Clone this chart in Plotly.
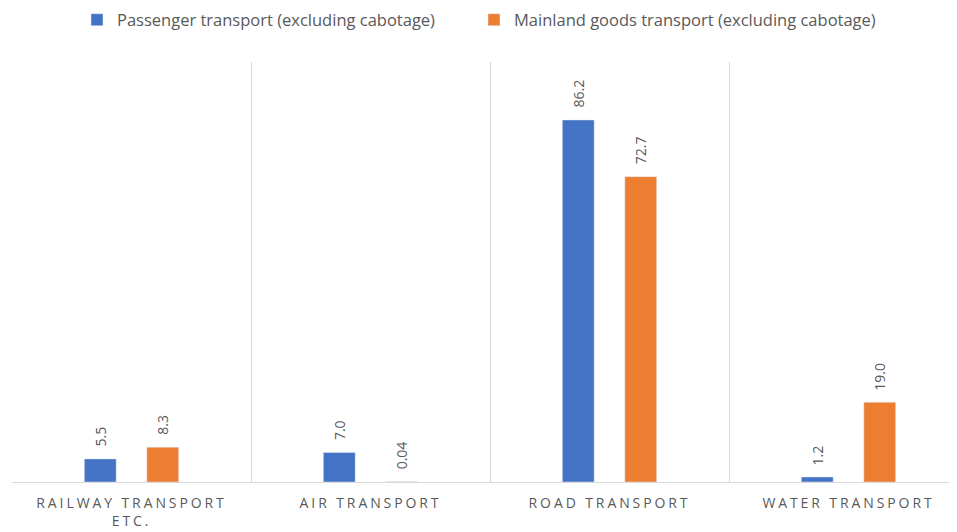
import plotly.graph_objects as go

categories = ["RAILWAY TRANSPORT<br>ETC.", "AIR TRANSPORT", "ROAD TRANSPORT", "WATER TRANSPORT"]
passenger = [5.5, 7.0, 86.2, 1.2]
goods = [8.3, 0.04, 72.7, 19.0]
passenger_labels = ["5.5", "7.0", "86.2", "1.2"]
goods_labels = ["8.3", "0.04", "72.7", "19.0"]

BLUE = "#4472C4"
ORANGE = "#ED7D31"
GREY = "#595959"
LINE = "#D9D9D9"

# page body adds an 8px margin, so the figure is sized to fit inside the window
W, H = 949, 524

# spaced-out capitals like the original axis labels
SPAN = '<span style="letter-spacing:2.9px">'
tick_text = [SPAN + c.replace("<br>", "</span><br>" + SPAN) + "</span>" for c in categories]

fig = go.Figure()
fig.add_trace(go.Bar(
    x=categories, y=passenger, name="Passenger transport (excluding cabotage)",
    marker=dict(color=BLUE), legend="legend",
))
fig.add_trace(go.Bar(
    x=categories, y=goods, name="Mainland goods transport (excluding cabotage)",
    marker=dict(color=ORANGE), legend="legend2",
))

# value labels above each bar, rotated like the original
for labels, values, shift in [(passenger_labels, passenger, -31), (goods_labels, goods, 31)]:
    for cat, val, lab in zip(categories, values, labels):
        fig.add_annotation(
            x=cat, y=val, text=lab, showarrow=False, textangle=-90,
            xshift=shift, yshift=10, yanchor="bottom", xanchor="center",
            font=dict(size=14, color=GREY),
        )

legend_style = dict(orientation="h", xref="container", yref="container", y=1 - 12 / H,
                    yanchor="middle", xanchor="left", font=dict(size=16.5, color=GREY),
                    itemwidth=30)

fig.update_layout(
    width=W, height=H,
    margin=dict(l=4, r=0, t=54, b=50),
    paper_bgcolor="white", plot_bgcolor="white",
    font=dict(family="Open Sans, sans-serif", color=GREY, size=14),
    barmode="group", bargap=0.477, bargroupgap=0.49,
    showlegend=True,
    legend=dict(legend_style, x=69 / W),
    legend2=dict(legend_style, x=466 / W),
)
fig.update_xaxes(
    range=[-0.5, 3.454], tickson="boundaries", showgrid=True, gridcolor=LINE, gridwidth=1,
    showline=True, linecolor=LINE, linewidth=1, ticks="", zeroline=False, automargin=False,
    tickmode="array", tickvals=categories, ticktext=tick_text, ticklabelstandoff=8,
    tickfont=dict(family="Open Sans, sans-serif", size=14, color=GREY),
)
fig.update_yaxes(range=[0, 100], visible=False, showgrid=False, zeroline=False, automargin=False)

fig.write_html("out.html")
